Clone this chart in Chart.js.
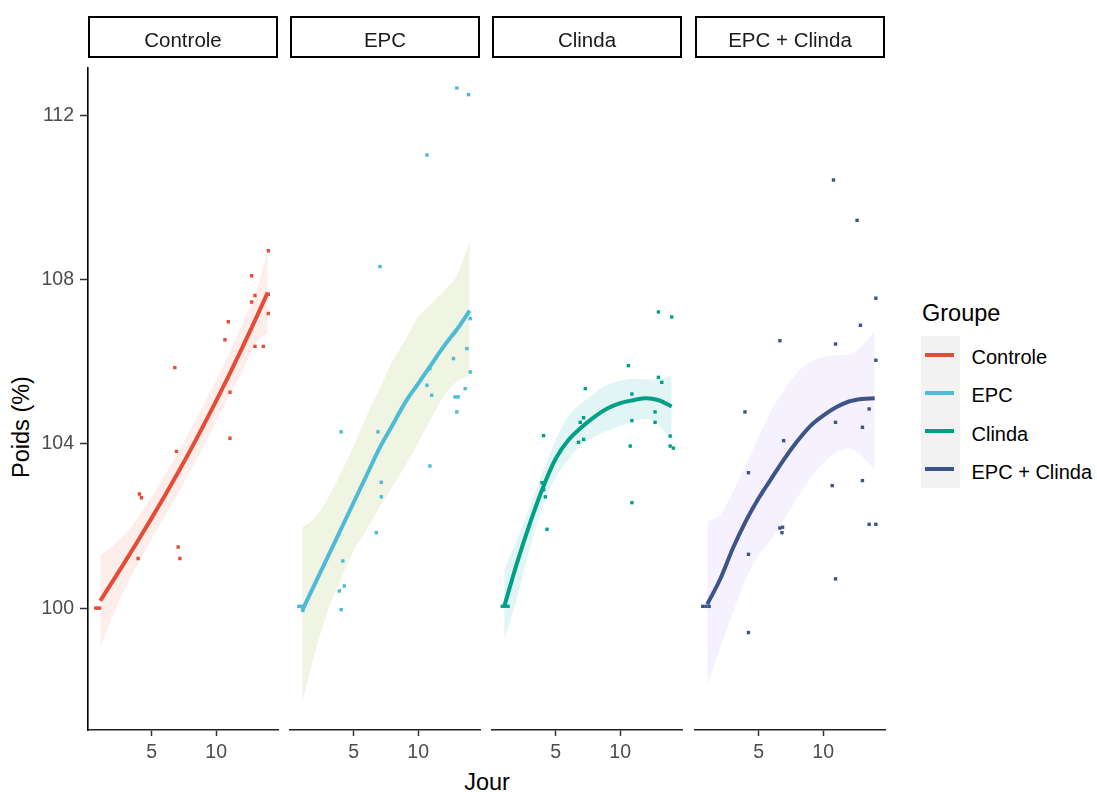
<!DOCTYPE html>
<html>
<head>
<meta charset="utf-8">
<script src="https://cdn.jsdelivr.net/npm/chart.js@4.4.0/dist/chart.umd.min.js"></script>
<style>
  body { margin: 0; background: #fff; }
  #fig { position: relative; width: 1097px; height: 792px; font-family: "Liberation Sans", Arial, sans-serif; }
  #fig canvas { position: absolute; top: 50px; }
  .strip { position: absolute; top: 16px; height: 42px; width: 190px; box-sizing: border-box;
           border: 2px solid #000; text-align: center; font-size: 20.5px; line-height: 1; color: #1a1a1a; padding-top: 11.5px; }
  .txt { position: absolute; line-height: 1; white-space: nowrap; }
  .key { position: absolute; left: 921px; width: 39px; background: #f2f2f2; }
  .keyline { position: absolute; left: 925px; width: 29px; height: 4px; }
</style>
</head>
<body>
<div id="fig">
  <div class="txt" id="ytitle" style="left:21.5px; top:427px; font-size:23.5px; transform:translate(-50%,-50%) rotate(-90deg);">Poids (%)</div>
  <div class="txt" style="left:487px; top:771px; font-size:23.5px; transform:translateX(-50%);">Jour</div>
  <div class="txt" style="left:922px; top:301.6px; font-size:23.5px;">Groupe</div>
</div>
<script>
// groupes et couleurs
const groups = ['Controle', 'EPC', 'Clinda', 'EPC + Clinda'];
const lineColors = ['#E64B35', '#4DBBD5', '#00A087', '#3C5488'];
const ribbonColors = ['#FDEDEB', '#F0F5E3', '#E1F5F5', '#F6F1FE'];
const yTicks = [100, 104, 108, 112];
const xTicks = [5, 10];

// courbes lissées (loess) et intervalle de confiance
const fitDays = [1, 2, 3, 4, 5, 6, 7, 8, 9, 10, 11, 12, 13, 14];
const controleFit = [100.18, 100.67, 101.17, 101.68, 102.2, 102.73, 103.28, 103.85, 104.44, 105.05, 105.68, 106.33, 107.0, 107.69];
const controleHigh = [101.28, 101.53, 101.83, 102.25, 102.72, 103.23, 103.77, 104.35, 104.95, 105.55, 106.2, 106.92, 107.62, 108.68];
const controleLow = [99.05, 99.83, 100.53, 101.12, 101.7, 102.23, 102.78, 103.35, 103.93, 104.55, 105.16, 105.76, 106.4, 106.72];
const epcFit = [99.9, 100.55, 101.2, 101.85, 102.5, 103.15, 103.8, 104.35, 104.9, 105.35, 105.8, 106.25, 106.65, 107.1];
const epcHigh = [101.9, 102.13, 102.6, 103.2, 103.85, 104.58, 105.23, 105.88, 106.4, 106.95, 107.25, 107.58, 107.95, 108.75];
const epcLow = [97.7, 98.9, 99.9, 100.65, 101.33, 101.85, 102.37, 102.88, 103.37, 103.93, 104.5, 105.05, 105.4, 105.55];
const clindaFit = [100.0, 101.05, 102.0, 102.85, 103.55, 104.0, 104.3, 104.55, 104.75, 104.88, 104.95, 105.0, 104.95, 104.8];
const clindaHigh = [100.9, 101.6, 102.4, 103.25, 104.0, 104.58, 104.88, 105.12, 105.32, 105.42, 105.46, 105.45, 105.45, 105.55];
const clindaLow = [99.2, 100.2, 101.4, 102.4, 103.1, 103.54, 103.88, 104.08, 104.22, 104.33, 104.46, 104.5, 104.35, 104.0];
const comboFit = [100.05, 100.65, 101.4, 102.05, 102.6, 103.08, 103.55, 103.97, 104.33, 104.58, 104.78, 104.92, 104.98, 105.0];
const comboHigh = [102.03, 102.2, 102.75, 103.4, 104.08, 104.72, 105.22, 105.62, 105.87, 105.99, 106.03, 106.04, 106.25, 106.6];
const comboLow = [98.1, 99.0, 99.85, 100.65, 101.22, 101.62, 102.1, 102.6, 103.07, 103.44, 103.7, 103.79, 103.6, 103.3];

// observations (jour avec jitter, poids en %)
const controleJour = [0.65, 0.8, 0.95, 3.94, 4.04, 4.2, 6.79, 6.92, 7.05, 7.18, 10.68, 10.94, 11.07, 11.07, 12.75, 12.75, 13.01, 13.01, 13.66, 14.05, 14.05, 14.05];
const controlePoids = [100, 100, 100, 101.21, 102.78, 102.69, 105.86, 103.82, 101.49, 101.21, 106.54, 106.98, 105.26, 104.14, 108.1, 107.46, 107.62, 106.38, 106.38, 108.71, 107.18, 107.65];
const epcJour = [0.73, 0.95, 1.05, 3.88, 4.02, 4.02, 4.15, 4.27, 6.75, 6.88, 7.04, 7.14, 7.14, 10.68, 10.68, 10.91, 10.91, 11.05, 12.74, 12.87, 13.0, 13.0, 13.1, 13.65, 13.78, 13.91, 14.04, 14.04];
const epcPoids = [100, 100, 99.9, 100.37, 104.19, 99.92, 101.09, 100.49, 101.77, 104.19, 108.16, 102.98, 102.63, 110.84, 105.31, 105.71, 103.37, 105.07, 105.95, 105.03, 112.45, 104.67, 105.03, 105.23, 106.19, 112.29, 106.91, 105.63];
const clindaJour = [0.85, 1.05, 1.3, 3.93, 4.05, 4.06, 4.19, 4.32, 6.77, 6.9, 7.16, 7.16, 7.29, 10.64, 10.78, 10.91, 10.91, 10.91, 12.71, 12.71, 12.97, 12.97, 13.23, 13.88, 13.88, 14.0, 14.13];
const clindaPoids = [100, 100, 100, 102.97, 104.1, 102.8, 102.63, 101.85, 103.94, 104.42, 104.53, 104.01, 105.23, 105.78, 103.85, 105.1, 104.46, 102.49, 104.67, 104.42, 107.07, 105.5, 105.38, 104.09, 103.85, 106.95, 103.8];
const comboJour = [0.65, 0.9, 1.15, 3.93, 4.2, 4.2, 4.2, 6.64, 6.64, 6.8, 6.85, 6.93, 10.7, 10.8, 10.96, 10.96, 10.96, 12.63, 12.89, 13.05, 13.05, 13.57, 13.57, 14.09, 14.09, 14.09];
const comboPoids = [100, 100, 100, 104.67, 103.21, 101.25, 99.37, 106.38, 101.88, 101.77, 101.9, 103.98, 102.9, 110.24, 106.3, 104.42, 100.66, 109.27, 106.75, 104.3, 103.02, 104.74, 101.97, 107.4, 105.91, 101.97];

const panels = [
  { fit: controleFit, high: controleHigh, low: controleLow, jour: controleJour, poids: controlePoids },
  { fit: epcFit, high: epcHigh, low: epcLow, jour: epcJour, poids: epcPoids },
  { fit: clindaFit, high: clindaHigh, low: clindaLow, jour: clindaJour, poids: clindaPoids },
  { fit: comboFit, high: comboHigh, low: comboLow, jour: comboJour, poids: comboPoids }
];

const panelLeft = [88, 290, 492, 695];
const panelWidth = 190;
const fig = document.getElementById('fig');
const fontFamily = '"Liberation Sans", Arial, sans-serif';

const toPts = (xs, ys) => xs.map((x, k) => ({ x: x, y: ys[k] }));

function makePanel(i) {
  const p = panels[i];
  const first = i === 0;
  const padL = first ? 0 : 4;
  const canvas = document.createElement('canvas');
  canvas.width = (first ? 88 : padL) + panelWidth + 4;
  canvas.height = 720;
  canvas.style.left = (first ? 0 : panelLeft[i] - padL) + 'px';
  fig.appendChild(canvas);

  // bandeau du facet
  const strip = document.createElement('div');
  strip.className = 'strip';
  strip.style.left = panelLeft[i] + 'px';
  strip.textContent = groups[i];
  fig.appendChild(strip);

  new Chart(canvas, {
    type: 'line',
    data: {
      datasets: [
        { data: toPts(fitDays, p.fit), borderColor: lineColors[i], borderWidth: 4, pointRadius: 0,
          cubicInterpolationMode: 'monotone', fill: false },
        { data: toPts(p.jour, p.poids), showLine: false, pointStyle: 'rect', pointRadius: 2.4,
          pointBackgroundColor: lineColors[i], pointBorderWidth: 0, fill: false },
        { data: toPts(fitDays, p.high), borderWidth: 0, borderColor: 'transparent', pointRadius: 0,
          cubicInterpolationMode: 'monotone', fill: '+1', backgroundColor: ribbonColors[i] },
        { data: toPts(fitDays, p.low), borderWidth: 0, borderColor: 'transparent', pointRadius: 0,
          cubicInterpolationMode: 'monotone', fill: false }
      ]
    },
    options: {
      responsive: false,
      animation: false,
      devicePixelRatio: 1,
      layout: { padding: { left: padL, right: 4, top: 8, bottom: 0 } },
      plugins: { legend: { display: false }, tooltip: { enabled: false } },
      scales: {
        x: {
          type: 'linear', min: 0.05, max: 14.8,
          afterBuildTicks: s => { s.ticks = xTicks.map(v => ({ value: v })); },
          afterFit: s => { s.height = 40; },
          grid: { display: true, drawOnChartArea: false, tickLength: 6, tickColor: '#333', tickWidth: 1.5 },
          border: { display: true, color: '#222', width: 1.6 },
          ticks: { color: '#4d4d4d', font: { family: fontFamily, size: 19.5 }, padding: 5, maxRotation: 0 }
        },
        y: {
          display: first, min: 97.03, max: 113.17,
          afterBuildTicks: s => { s.ticks = yTicks.map(v => ({ value: v })); },
          afterFit: s => { if (first) s.width = 88; },
          grid: { display: true, drawOnChartArea: false, tickLength: 8, tickColor: '#333', tickWidth: 1.5 },
          border: { display: true, color: '#000', width: 1.6 },
          ticks: { color: '#4d4d4d', font: { family: fontFamily, size: 19.5 }, padding: 6 }
        }
      }
    }
  });
}

for (let i = 0; i < groups.length; i++) makePanel(i);

// légende
const rowH = 38.2, keyTop = 335.5;
const box = document.createElement('div');
box.className = 'key';
box.style.top = keyTop + 'px';
box.style.height = (rowH * groups.length) + 'px';
fig.appendChild(box);
groups.forEach((g, k) => {
  const c = keyTop + rowH / 2 + k * rowH;
  const ln = document.createElement('div');
  ln.className = 'keyline';
  ln.style.top = (c - 2) + 'px';
  ln.style.background = lineColors[k];
  fig.appendChild(ln);
  const t = document.createElement('div');
  t.className = 'txt';
  t.style.left = '971.5px';
  t.style.top = (c - 7.4) + 'px';
  t.style.fontSize = '20px';
  t.textContent = g;
  fig.appendChild(t);
});
</script>
</body>
</html>
